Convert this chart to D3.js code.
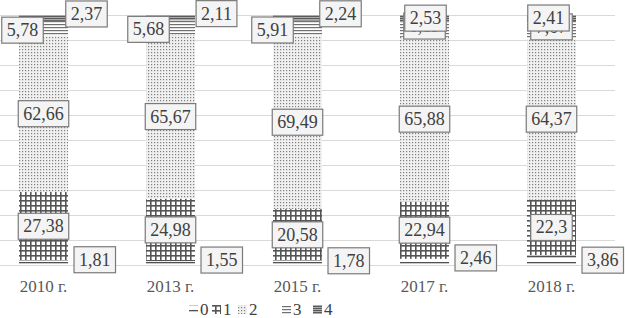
<!DOCTYPE html>
<html><head><meta charset="utf-8">
<script src="https://cdn.jsdelivr.net/npm/d3@7"></script>
<style>body{margin:0;background:#fff}svg{display:block}</style>
</head><body>
<svg id="c" width="625" height="318"></svg>
<script>
const categories = ["2010 г.", "2013 г.", "2015 г.", "2017 г.", "2018 г."];
const seriesNames = ["0", "1", "2", "3", "4"];
const s0 = [1.81, 1.55, 1.78, 2.46, 3.86];
const s1 = [27.38, 24.98, 20.58, 22.94, 22.3];
const s2 = [62.66, 65.67, 69.49, 65.88, 64.37];
const s3 = [5.78, 5.68, 5.91, 6.19, 7.07];
const s4 = [2.37, 2.11, 2.24, 2.53, 2.41];
const gridTicks = [0, 0.1, 0.2, 0.3, 0.4, 0.5, 0.6, 0.7, 0.8, 0.9, 1];

const seriesValues = [s0, s1, s2, s3, s4];
const rows = categories.map((c, i) => {
  const r = {cat: c};
  seriesNames.forEach((s, k) => r[s] = seriesValues[k][i]);
  return r;
});

const FONT = "'Liberation Serif', 'DejaVu Serif', 'Times New Roman', serif";
const svg = d3.select("#c");
const x = d3.scaleBand().domain(categories).range([-20, 615]).paddingInner(0.614).paddingOuter(0.307);
const y = d3.scaleLinear().domain([0, 1]).range([265, 15]);

// patterns
const defs = svg.append("defs");
function pat(id, w, h, draw) {
  const p = defs.append("pattern").attr("id", id).attr("patternUnits", "userSpaceOnUse")
    .attr("width", w).attr("height", h);
  p.append("rect").attr("width", w).attr("height", h).attr("fill", "#fff");
  draw(p);
}
pat("p0", 4, 6, p => p.append("rect").attr("y", 4).attr("width", 4).attr("height", 1.3).attr("fill", "#505050"));
pat("p1", 5, 5, p => {
  p.append("rect").attr("x", 0).attr("y", 0).attr("width", 1.6).attr("height", 5).attr("fill", "#555");
  p.append("rect").attr("x", 0).attr("y", 0).attr("width", 5).attr("height", 1.6).attr("fill", "#555");
});
pat("p2", 3, 3, p => {
  p.select("rect").attr("fill", "#f0f0f0");
  p.append("rect").attr("x", 1).attr("y", 1).attr("width", 1.2).attr("height", 1.2).attr("fill", "#808080");
});
pat("p3", 3, 3, p => p.append("rect").attr("y", 0).attr("width", 3).attr("height", 1.2).attr("fill", "#707070"));
pat("p4", 2, 2, p => p.append("rect").attr("y", 0).attr("width", 2).attr("height", 1.5).attr("fill", "#5a5a5a"));

// gridlines
svg.append("g").selectAll("line").data(gridTicks).join("line")
  .attr("x1", 0).attr("x2", 615)
  .attr("y1", d => Math.round(y(d)) + 0.5).attr("y2", d => Math.round(y(d)) + 0.5)
  .attr("stroke", "#d9d9d9").attr("stroke-width", 1);

// stacked bars (100%)
const stack = d3.stack().keys(seriesNames).offset(d3.stackOffsetExpand);
const layers = stack(rows);

svg.append("g").selectAll("g").data(layers).join("g")
  .attr("fill", (d, k) => `url(#p${k})`)
  .selectAll("rect").data(d => d.map(v => ({v, cat: v.data.cat}))).join("rect")
  .attr("x", d => x(d.cat)).attr("width", x.bandwidth())
  .attr("y", d => y(d.v[1])).attr("height", d => y(d.v[0]) - y(d.v[1]));

// category axis
const xAxis = svg.append("g").attr("transform", "translate(0,292)")
  .call(d3.axisBottom(x).tickSize(0).tickPadding(0));
xAxis.select(".domain").remove();
xAxis.selectAll("text").attr("dy", 0).attr("fill", "#595959")
  .style("font-family", FONT).style("font-size", "17px");

// data labels: offsets (dx, dy) relative to segment center, per series and category
const labelOffsets = [
  [[0, -3], [0, -3], [0, -2], [0, -4], [0, 0]],
  [[0, 0], [0, 0], [0, 0], [0, 0], [0, 0]],
  [[0, 0], [0, 0], [0, 0], [0, 0], [0, 0]],
  [[-21, 2], [-22, 2], [-25, 2], [0, -3], [0, -3]],
  [[43, -4], [46, -4], [43, -4], [1, 0], [-3, 0]]
];
const fmt = v => String(v).replace(".", ",");
const lg = svg.append("g").style("font-family", FONT).style("font-size", "18px");
layers.forEach((layer, k) => {
  layer.forEach((v, i) => {
    const cat = categories[i];
    const val = seriesValues[k][i];
    const g = lg.append("g");
    const t = g.append("text").text(fmt(val)).attr("fill", "#404040").attr("text-anchor", "middle");
    const w = t.node().getComputedTextLength() + 10;
    const h = 26;
    let cx = x(cat) + x.bandwidth() / 2;
    let cy = (y(v[0]) + y(v[1])) / 2;
    if (k === 0) cx = x(cat) + x.bandwidth() + 6 + w / 2;
    cx += labelOffsets[k][i][0];
    cy += labelOffsets[k][i][1];
    g.insert("rect", "text").attr("x", cx - w / 2).attr("y", cy - h / 2).attr("width", w).attr("height", h)
      .attr("fill", "#f4f4f4").attr("stroke", "#7a7a7a").attr("stroke-width", 1.2);
    t.attr("x", cx).attr("y", cy + 6);
  });
});

// legend
const legendX = [189, 212, 238, 282, 313];
const leg = svg.append("g").style("font-family", FONT).style("font-size", "17px");
seriesNames.forEach((s, k) => {
  leg.append("rect").attr("x", legendX[k]).attr("y", 305).attr("width", 9).attr("height", 9)
    .attr("fill", `url(#p${k})`);
  leg.append("text").attr("x", legendX[k] + 11).attr("y", 315).attr("fill", "#404040").text(s);
});
</script>
</body></html>
